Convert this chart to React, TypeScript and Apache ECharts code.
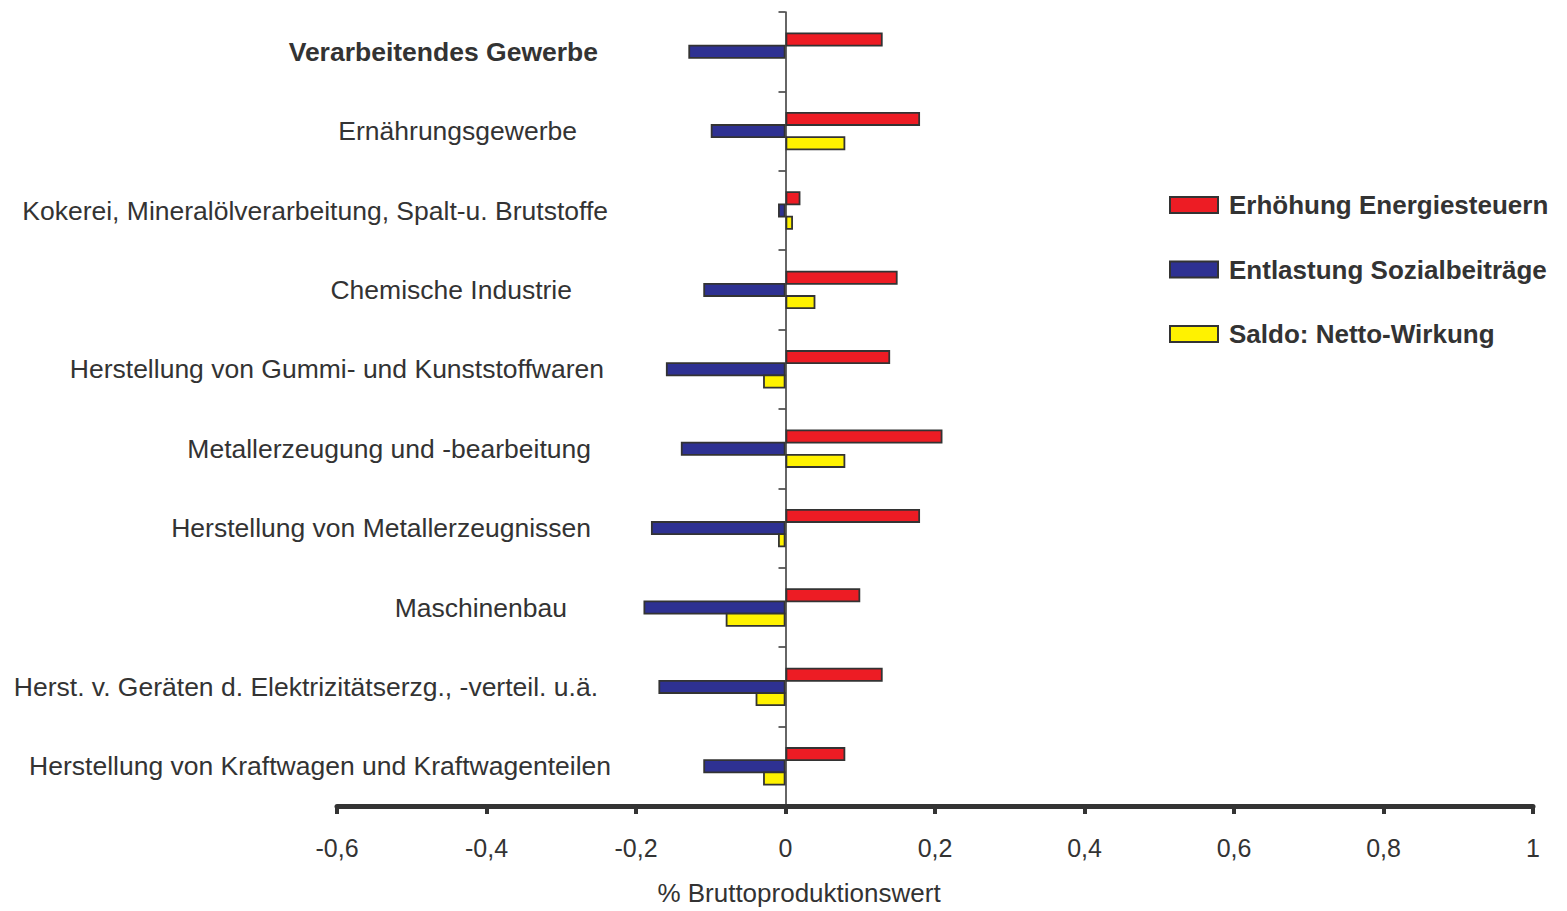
import React, { useEffect, useRef } from "react";
import * as echarts from "echarts";

const categories = [
  "Verarbeitendes Gewerbe",
  "Ernährungsgewerbe",
  "Kokerei, Mineralölverarbeitung, Spalt-u. Brutstoffe",
  "Chemische Industrie",
  "Herstellung von Gummi- und Kunststoffwaren",
  "Metallerzeugung und -bearbeitung",
  "Herstellung von Metallerzeugnissen",
  "Maschinenbau",
  "Herst. v. Geräten d. Elektrizitätserzg., -verteil. u.ä.",
  "Herstellung von Kraftwagen und Kraftwagenteilen",
];

const seriesNames = [
  "Erhöhung Energiesteuern",
  "Entlastung Sozialbeiträge",
  "Saldo: Netto-Wirkung",
];

const energiesteuern = [0.13, 0.18, 0.02, 0.15, 0.14, 0.21, 0.18, 0.1, 0.13, 0.08];
const sozialbeitraege = [-0.13, -0.1, -0.01, -0.11, -0.16, -0.14, -0.18, -0.19, -0.17, -0.11];
const saldo: (number | string)[] = ["-", 0.08, 0.01, 0.04, -0.03, 0.08, -0.01, -0.08, -0.04, -0.03];

const xMin = -0.6;
const xMax = 1;
const xStep = 0.2;

// styling: right edge (px) of each category label in the layout
const labelRightEdge = [598, 577, 608, 572, 604, 591, 591, 567, 598, 611];

const colors = ["#ED1C24", "#2E3192", "#FFF200"];
const textColor = "#333333";
const font = "'Liberation Sans', Arial, Helvetica, sans-serif";

const gridLeft = 337;

export default function App() {
  const ref = useRef<HTMLDivElement>(null);

  useEffect(() => {
    if (!ref.current) return;
    const chart = echarts.init(ref.current, undefined, { renderer: "svg" });

    const baseEdge = Math.max(...labelRightEdge);
    const rich: Record<string, any> = {};
    labelRightEdge.forEach((edge, i) => {
      rich["l" + i] = {
        fontSize: 26.5,
        fontFamily: font,
        color: textColor,
        fontWeight: i === 0 ? "bold" : "normal",
        padding: [0, baseEdge - edge, 0, 0],
      };
    });

    const barStyle = (c: string) => ({
      color: c,
      borderColor: "#333333",
      borderWidth: 1.8,
    });

    const seriesData = [energiesteuern, sozialbeitraege, saldo];

    chart.setOption({
      animation: false,
      backgroundColor: "#ffffff",
      textStyle: { fontFamily: font },
      grid: {
        left: gridLeft,
        right: 34,
        top: 12,
        bottom: 105,
        containLabel: false,
        outerBoundsMode: "none",
      },
      legend: {
        orient: "vertical",
        left: 1164,
        top: 187,
        itemWidth: 48,
        itemHeight: 16,
        itemGap: 38.5,
        icon: "rect",
        data: seriesNames,
        textStyle: {
          fontSize: 26,
          fontWeight: "bold",
          color: textColor,
          fontFamily: font,
          lineHeight: 26,
          padding: [0, 0, 0, 6],
        },
      },
      xAxis: {
        type: "value",
        min: xMin,
        max: xMax,
        interval: xStep,
        position: "bottom",
        name: "% Bruttoproduktionswert",
        nameLocation: "middle",
        nameGap: 74,
        nameTextStyle: {
          fontSize: 26,
          color: textColor,
          fontFamily: font,
          padding: [0, 272, 0, 0],
        },
        splitLine: { show: false },
        axisLine: { show: true, onZero: false, lineStyle: { color: "#333333", width: 5 } },
        axisTick: { show: true, length: 8, lineStyle: { color: "#333333", width: 4 } },
        axisLabel: {
          margin: 29,
          fontSize: 25,
          color: textColor,
          fontFamily: font,
          formatter: (v: number) => String(Math.round(v * 10) / 10).replace(".", ","),
        },
      },
      yAxis: {
        type: "category",
        inverse: true,
        data: categories,
        axisLine: { show: true, onZero: true, lineStyle: { color: "#333333", width: 1.5 } },
        axisTick: { show: true, length: 7, alignWithLabel: false, lineStyle: { color: "#333333", width: 1.5 } },
        splitLine: { show: false },
        axisLabel: {
          margin: gridLeft - baseEdge,
          align: "right",
          formatter: (value: string, index: number) => `{l${index}|${value}}`,
          rich,
        },
      },
      series: seriesNames.map((name, i) => ({
        name,
        type: "bar",
        data: seriesData[i],
        barWidth: 14,
        barGap: "-13%",
        itemStyle: barStyle(colors[i]),
        emphasis: { disabled: true },
      })),
    });

    return () => {
      chart.dispose();
    };
  }, []);

  return (
    <div
      ref={ref}
      style={{ position: "absolute", left: 0, top: 0, width: 1567, height: 911 }}
    />
  );
}
